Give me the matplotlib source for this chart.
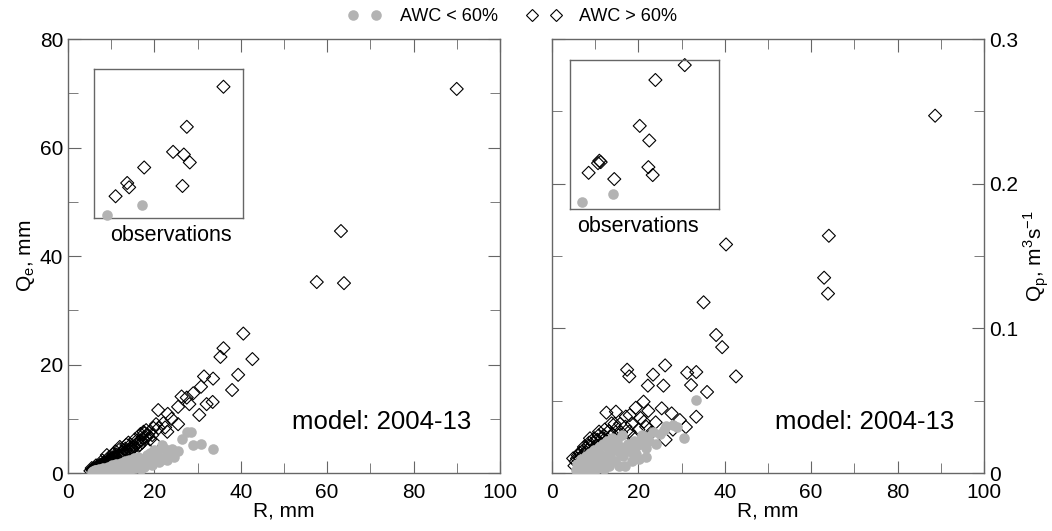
"""Event runoff (Qe) and peak discharge (Qp) vs rainfall R, model 2004-13 with observation insets."""

import matplotlib
matplotlib.use("Agg")
import matplotlib.pyplot as plt
from matplotlib.lines import Line2D
from matplotlib.ticker import MultipleLocator

plt.rcParams["font.family"] = ["Liberation Sans", "DejaVu Sans"]
plt.rcParams["mathtext.fontset"] = "custom"
plt.rcParams["mathtext.rm"] = "Liberation Sans"

# ── data: left panel (R, mm vs Qe, mm) ──
qe_wet_r = [90.0, 57.6, 63.9, 63.2, 40.6, 42.7, 36.0, 35.3, 39.4, 38.0, 31.5, 33.6, 30.8, 29.0,
            27.5, 26.3, 28.1, 32.1, 33.5, 30.4, 25.5, 25.5, 20.9, 23.1, 22.1, 23.0, 18.1, 17.7,
            18.5, 12.0, 5.2, 5.6, 6.0, 6.3, 6.6, 7.0, 7.2, 7.5, 7.8, 8.1, 8.4, 8.7, 9.0, 9.3,
            9.6, 10.0, 10.3, 10.6, 11.0, 11.3, 11.7, 12.2, 12.6, 13.0, 13.4, 13.8, 14.2, 14.6,
            15.0, 15.4, 15.8, 16.2, 16.6, 17.0, 17.3, 16.8, 17.5, 19.0, 19.5, 21.0, 20.0, 14.0,
            13.5, 15.5, 11.0, 9.5, 8.0, 6.5, 5.5, 24.0, 22.5, 20.4,
            5.8, 6.1, 6.8, 7.1, 7.4, 7.9, 8.3, 8.6, 9.1, 9.4, 9.8, 10.2, 10.8, 11.2, 11.8,
            12.4, 12.9, 13.3, 14.0, 14.5, 15.2, 16.0, 16.4, 17.2, 18.0, 18.8, 19.8, 9.0, 10.5, 12.0]
qe_wet_q = [70.8, 35.2, 35.0, 44.6, 25.7, 21.0, 23.0, 21.4, 18.1, 15.3, 17.8, 17.4, 15.9, 14.7,
            13.9, 14.1, 12.7, 12.7, 13.1, 10.7, 12.2, 9.0, 11.6, 10.9, 9.2, 7.6, 7.9, 7.3,
            7.0, 4.8, 0.4, 0.6, 0.8, 0.7, 1.0, 1.1, 1.3, 1.2, 1.5, 1.6, 1.8, 1.7, 2.0, 2.2,
            2.1, 2.5, 2.4, 2.8, 3.0, 2.7, 3.3, 3.5, 3.2, 3.8, 4.1, 3.9, 4.4, 4.7,
            4.5, 5.0, 5.3, 5.6, 5.2, 6.0, 6.4, 7.2, 7.6, 6.2, 7.0, 8.3, 5.6, 5.6,
            5.2, 6.2, 4.0, 2.9, 2.3, 1.4, 0.9, 10.0, 8.4, 9.0,
            0.5, 0.9, 1.2, 0.9, 1.5, 1.3, 2.0, 1.5, 1.8, 2.5, 2.4, 2.9, 2.6, 3.4, 3.0,
            3.9, 3.4, 4.5, 4.2, 5.2, 4.8, 6.0, 5.0, 5.6, 6.6, 7.5, 8.3, 3.3, 3.5, 4.4]
qe_dry_r = [27.5, 28.5, 29.0, 30.8, 33.5, 21.7, 23.2, 20.5, 19.0, 18.0, 17.0, 16.0, 15.0, 14.0,
            13.0, 12.0, 11.0, 10.0, 9.0, 8.0, 7.0, 6.0, 5.5, 6.5, 7.5, 8.5, 9.5, 10.5, 11.5,
            12.5, 13.5, 14.5, 15.5, 16.5, 17.5, 18.5, 19.5, 21.0, 22.0, 20.0, 19.0, 23.0, 24.5,
            5.8, 6.2, 7.2, 8.2, 9.2, 10.2, 11.2, 12.2, 13.2, 14.2, 15.2, 16.2, 17.2, 18.2,
            20.5, 21.5, 22.5, 16.8, 13.8, 11.8, 19.8, 24.0, 25.5, 26.5]
qe_dry_q = [7.6, 7.6, 5.2, 5.3, 4.4, 5.2, 3.7, 3.0, 2.3, 2.8, 1.8, 2.2, 1.4, 1.7,
            1.0, 1.3, 0.8, 0.9, 0.5, 0.6, 0.3, 0.2, 0.1, 0.5, 0.2, 0.3, 0.7, 0.4, 1.0,
            0.6, 1.2, 0.8, 1.0, 1.5, 1.2, 1.9, 1.4, 2.0, 2.6, 4.2, 3.6, 2.4, 3.0,
            0.3, 0.6, 0.7, 0.9, 1.1, 1.4, 1.6, 1.9, 2.2, 2.4, 2.7, 3.0, 2.6, 3.3,
            3.8, 2.8, 4.4, 0.8, 0.4, 0.3, 2.6, 4.5, 4.0, 6.3]

# ── data: right panel (R, mm vs Qp, m3/s) ──
qp_wet_r = [88.7, 40.3, 64.1, 63.0, 63.9, 35.1, 38.0, 39.4, 42.6, 26.2, 23.4, 17.4, 17.9, 31.3,
            33.4, 22.2, 25.8, 32.2, 35.9, 21.2, 19.4, 22.3, 12.6, 14.8, 17.1, 25.4, 27.7, 29.6,
            33.4, 31.0, 26.3, 21.3, 15.8, 13.8, 10.9, 8.8, 17.9, 19.3, 4.9, 5.5, 6.0, 6.5, 7.0,
            7.3, 7.7, 8.0, 8.4, 9.0, 9.5, 10.0, 10.5, 11.2, 12.0, 12.5, 13.2, 14.0, 15.0, 16.0,
            18.5, 20.0, 6.2, 7.8, 9.2, 11.5, 13.0, 16.5, 19.0, 24.0, 28.0, 23.0,
            5.2, 5.8, 6.4, 6.9, 7.4, 8.2, 8.6, 9.4, 9.8, 10.4, 10.8, 11.6, 12.2, 13.6, 14.5,
            15.4, 17.0, 18.0, 20.5, 21.8]
qp_wet_q = [0.247, 0.158, 0.164, 0.135, 0.124, 0.118, 0.0954, 0.087, 0.0668, 0.0744, 0.068,
            0.0714, 0.0668, 0.0693, 0.0698, 0.0604, 0.0604, 0.0608, 0.056, 0.0493, 0.0451, 0.043,
            0.0417, 0.0424, 0.039, 0.0447, 0.0412, 0.0366, 0.0389, 0.0318, 0.023, 0.0355, 0.034,
            0.0343, 0.0286, 0.024, 0.0286, 0.018, 0.0101, 0.008, 0.012, 0.010, 0.015, 0.013,
            0.017, 0.014, 0.019, 0.018, 0.021, 0.017, 0.023, 0.020, 0.026, 0.022, 0.029, 0.027,
            0.031, 0.028, 0.034, 0.030, 0.006, 0.011, 0.013, 0.016, 0.018, 0.022, 0.025, 0.035,
            0.030, 0.028,
            0.005, 0.010, 0.014, 0.011, 0.018, 0.016, 0.021, 0.016, 0.024, 0.019, 0.026, 0.024,
            0.030, 0.025, 0.034, 0.026, 0.032, 0.040, 0.038, 0.032]
qp_dry_r = [33.4, 26.5, 28.1, 28.9, 30.6, 21.8, 21.8, 23.5, 20.8, 19.0, 17.5, 16.0, 15.0, 14.0,
            13.0, 12.0, 11.0, 10.0, 9.0, 8.0, 7.0, 6.0, 5.5, 6.5, 7.5, 8.5, 9.5, 10.5, 11.5,
            12.5, 13.5, 14.5, 16.5, 18.0, 19.5, 20.5, 22.5, 25.0, 24.0, 18.5, 15.5, 12.0, 9.0,
            15.7, 12.7, 18.8, 20.4, 14.6,
            5.8, 6.8, 7.8, 8.8, 9.8, 10.8, 11.8, 12.8, 13.8, 14.8, 16.2, 17.2, 19.2, 20.2,
            22.0, 26.0, 7.2, 10.2, 13.2, 16.8]
qp_dry_q = [0.0505, 0.0325, 0.033, 0.032, 0.0244, 0.0175, 0.011, 0.0286, 0.026, 0.022, 0.020,
            0.018, 0.023, 0.015, 0.017, 0.012, 0.014, 0.009, 0.011, 0.007, 0.008, 0.004, 0.002,
            0.006, 0.003, 0.005, 0.004, 0.008, 0.006, 0.009, 0.011, 0.008, 0.012, 0.015, 0.013,
            0.020, 0.022, 0.027, 0.020, 0.008, 0.005, 0.003, 0.002, 0.0136, 0.0067, 0.0136,
            0.0228, 0.0216,
            0.006, 0.010, 0.012, 0.014, 0.016, 0.018, 0.020, 0.022, 0.024, 0.019, 0.026, 0.015,
            0.017, 0.010, 0.025, 0.030, 0.001, 0.003, 0.005, 0.005]

# ── observation insets (no axes shown: values in inset box fractions) ──
obs_left_wet_x = [0.869, 0.623, 0.531, 0.603, 0.643, 0.337, 0.223, 0.236, 0.594, 0.145]
obs_left_wet_y = [0.881, 0.612, 0.444, 0.426, 0.373, 0.339, 0.235, 0.206, 0.215, 0.146]
obs_left_dry_x = [0.089, 0.324]
obs_left_dry_y = [0.023, 0.087]
obs_right_wet_x = [0.770, 0.573, 0.468, 0.532, 0.197, 0.206, 0.188, 0.125, 0.297, 0.526, 0.555]
obs_right_wet_y = [0.966, 0.866, 0.558, 0.460, 0.324, 0.315, 0.308, 0.243, 0.201, 0.281, 0.228]
obs_right_dry_x = [0.078, 0.286]
obs_right_dry_y = [0.044, 0.102]

GRAY = "#b3b3b3"
SPINE = "#666666"
DIAMOND = dict(marker="D", s=44, facecolors="none", edgecolors="black", linewidths=0.8)
CIRCLE = dict(marker="o", s=58, color=GRAY, linewidths=0)


def style_axes(ax, ymajor, yminor):
    for sp in ax.spines.values():
        sp.set_color(SPINE)
        sp.set_linewidth(1.0)
    ax.xaxis.set_major_locator(MultipleLocator(20))
    ax.xaxis.set_minor_locator(MultipleLocator(10))
    ax.yaxis.set_major_locator(MultipleLocator(ymajor))
    ax.yaxis.set_minor_locator(MultipleLocator(yminor))
    ax.tick_params(which="both", direction="in", top=True, bottom=True, left=True, right=True,
                   color=SPINE, labelsize=15)
    ax.tick_params(which="major", length=9)
    ax.tick_params(which="minor", length=7)
    ax.tick_params(axis="x", which="major", pad=7)
    ax.set_xlim(0, 100)
    ax.set_xlabel("R, mm", fontsize=15, labelpad=0)


def add_inset(ax, rect, wx, wy, dx, dy, label_xy):
    ins = ax.inset_axes(rect)
    ins.scatter(wx, wy, clip_on=False, **DIAMOND)
    ins.scatter(dx, dy, clip_on=False, zorder=3, **CIRCLE)
    ins.set_xlim(0, 1)
    ins.set_ylim(0, 1)
    ins.set_xticks([])
    ins.set_yticks([])
    for sp in ins.spines.values():
        sp.set_color(SPINE)
        sp.set_linewidth(1.0)
    ax.text(*label_xy, "observations", transform=ax.transAxes, fontsize=15.5,
            ha="center", va="center")


fig = plt.figure(figsize=(10.52, 5.31), dpi=100)
ax1 = fig.add_axes([0.0646, 0.1092, 0.4106, 0.8173])
ax2 = fig.add_axes([0.5247, 0.1092, 0.4106, 0.8173])

# left: Qe
ax1.scatter(qe_wet_r, qe_wet_q, **DIAMOND)
ax1.scatter(qe_dry_r, qe_dry_q, zorder=3, **CIRCLE)
style_axes(ax1, 20, 10)
ax1.set_ylim(0, 80)
ax1.set_ylabel(r"Q$_\mathregular{e}$, mm", fontsize=15, labelpad=2)
ax1.text(0.727, 0.1175, "model: 2004-13", transform=ax1.transAxes, fontsize=18.5,
         ha="center", va="center")
add_inset(ax1, [0.0602, 0.5876, 0.345, 0.3433], obs_left_wet_x, obs_left_wet_y,
          obs_left_dry_x, obs_left_dry_y, (0.238, 0.548))

# right: Qp
ax2.scatter(qp_wet_r, qp_wet_q, **DIAMOND)
ax2.scatter(qp_dry_r, qp_dry_q, zorder=3, **CIRCLE)
style_axes(ax2, 0.1, 0.05)
ax2.set_ylim(0, 0.3)
ax2.yaxis.set_label_position("right")
ax2.tick_params(labelleft=False, labelright=True)
ax2.yaxis.set_major_formatter(lambda v, p: "0" if abs(v) < 1e-9 else f"{v:.1f}")
ax2.set_ylabel(r"Q$_\mathregular{p}$, m$^\mathregular{3}$s$^\mathregular{-1}$",
               fontsize=15, labelpad=3)
ax2.text(0.7245, 0.1175, "model: 2004-13", transform=ax2.transAxes, fontsize=18.5,
         ha="center", va="center")
add_inset(ax2, [0.0417, 0.6083, 0.345, 0.3433], obs_right_wet_x, obs_right_wet_y,
          obs_right_dry_x, obs_right_dry_y, (0.199, 0.569))

# shared legend on top
handles = [
    Line2D([], [], linestyle="none", marker="o", markersize=7.6, color=GRAY, markeredgewidth=0),
    Line2D([], [], linestyle="none", marker="D", markersize=6.5, markerfacecolor="none",
           markeredgecolor="black", markeredgewidth=0.8),
]
fig.legend(handles, ["AWC < 60%", "AWC > 60%"], loc="center", bbox_to_anchor=(0.487, 0.968),
           ncol=2, numpoints=2, frameon=False, fontsize=13, handlelength=1.9,
           handletextpad=1.0, columnspacing=1.6, borderaxespad=0)

fig.savefig("out.png", dpi=100)
